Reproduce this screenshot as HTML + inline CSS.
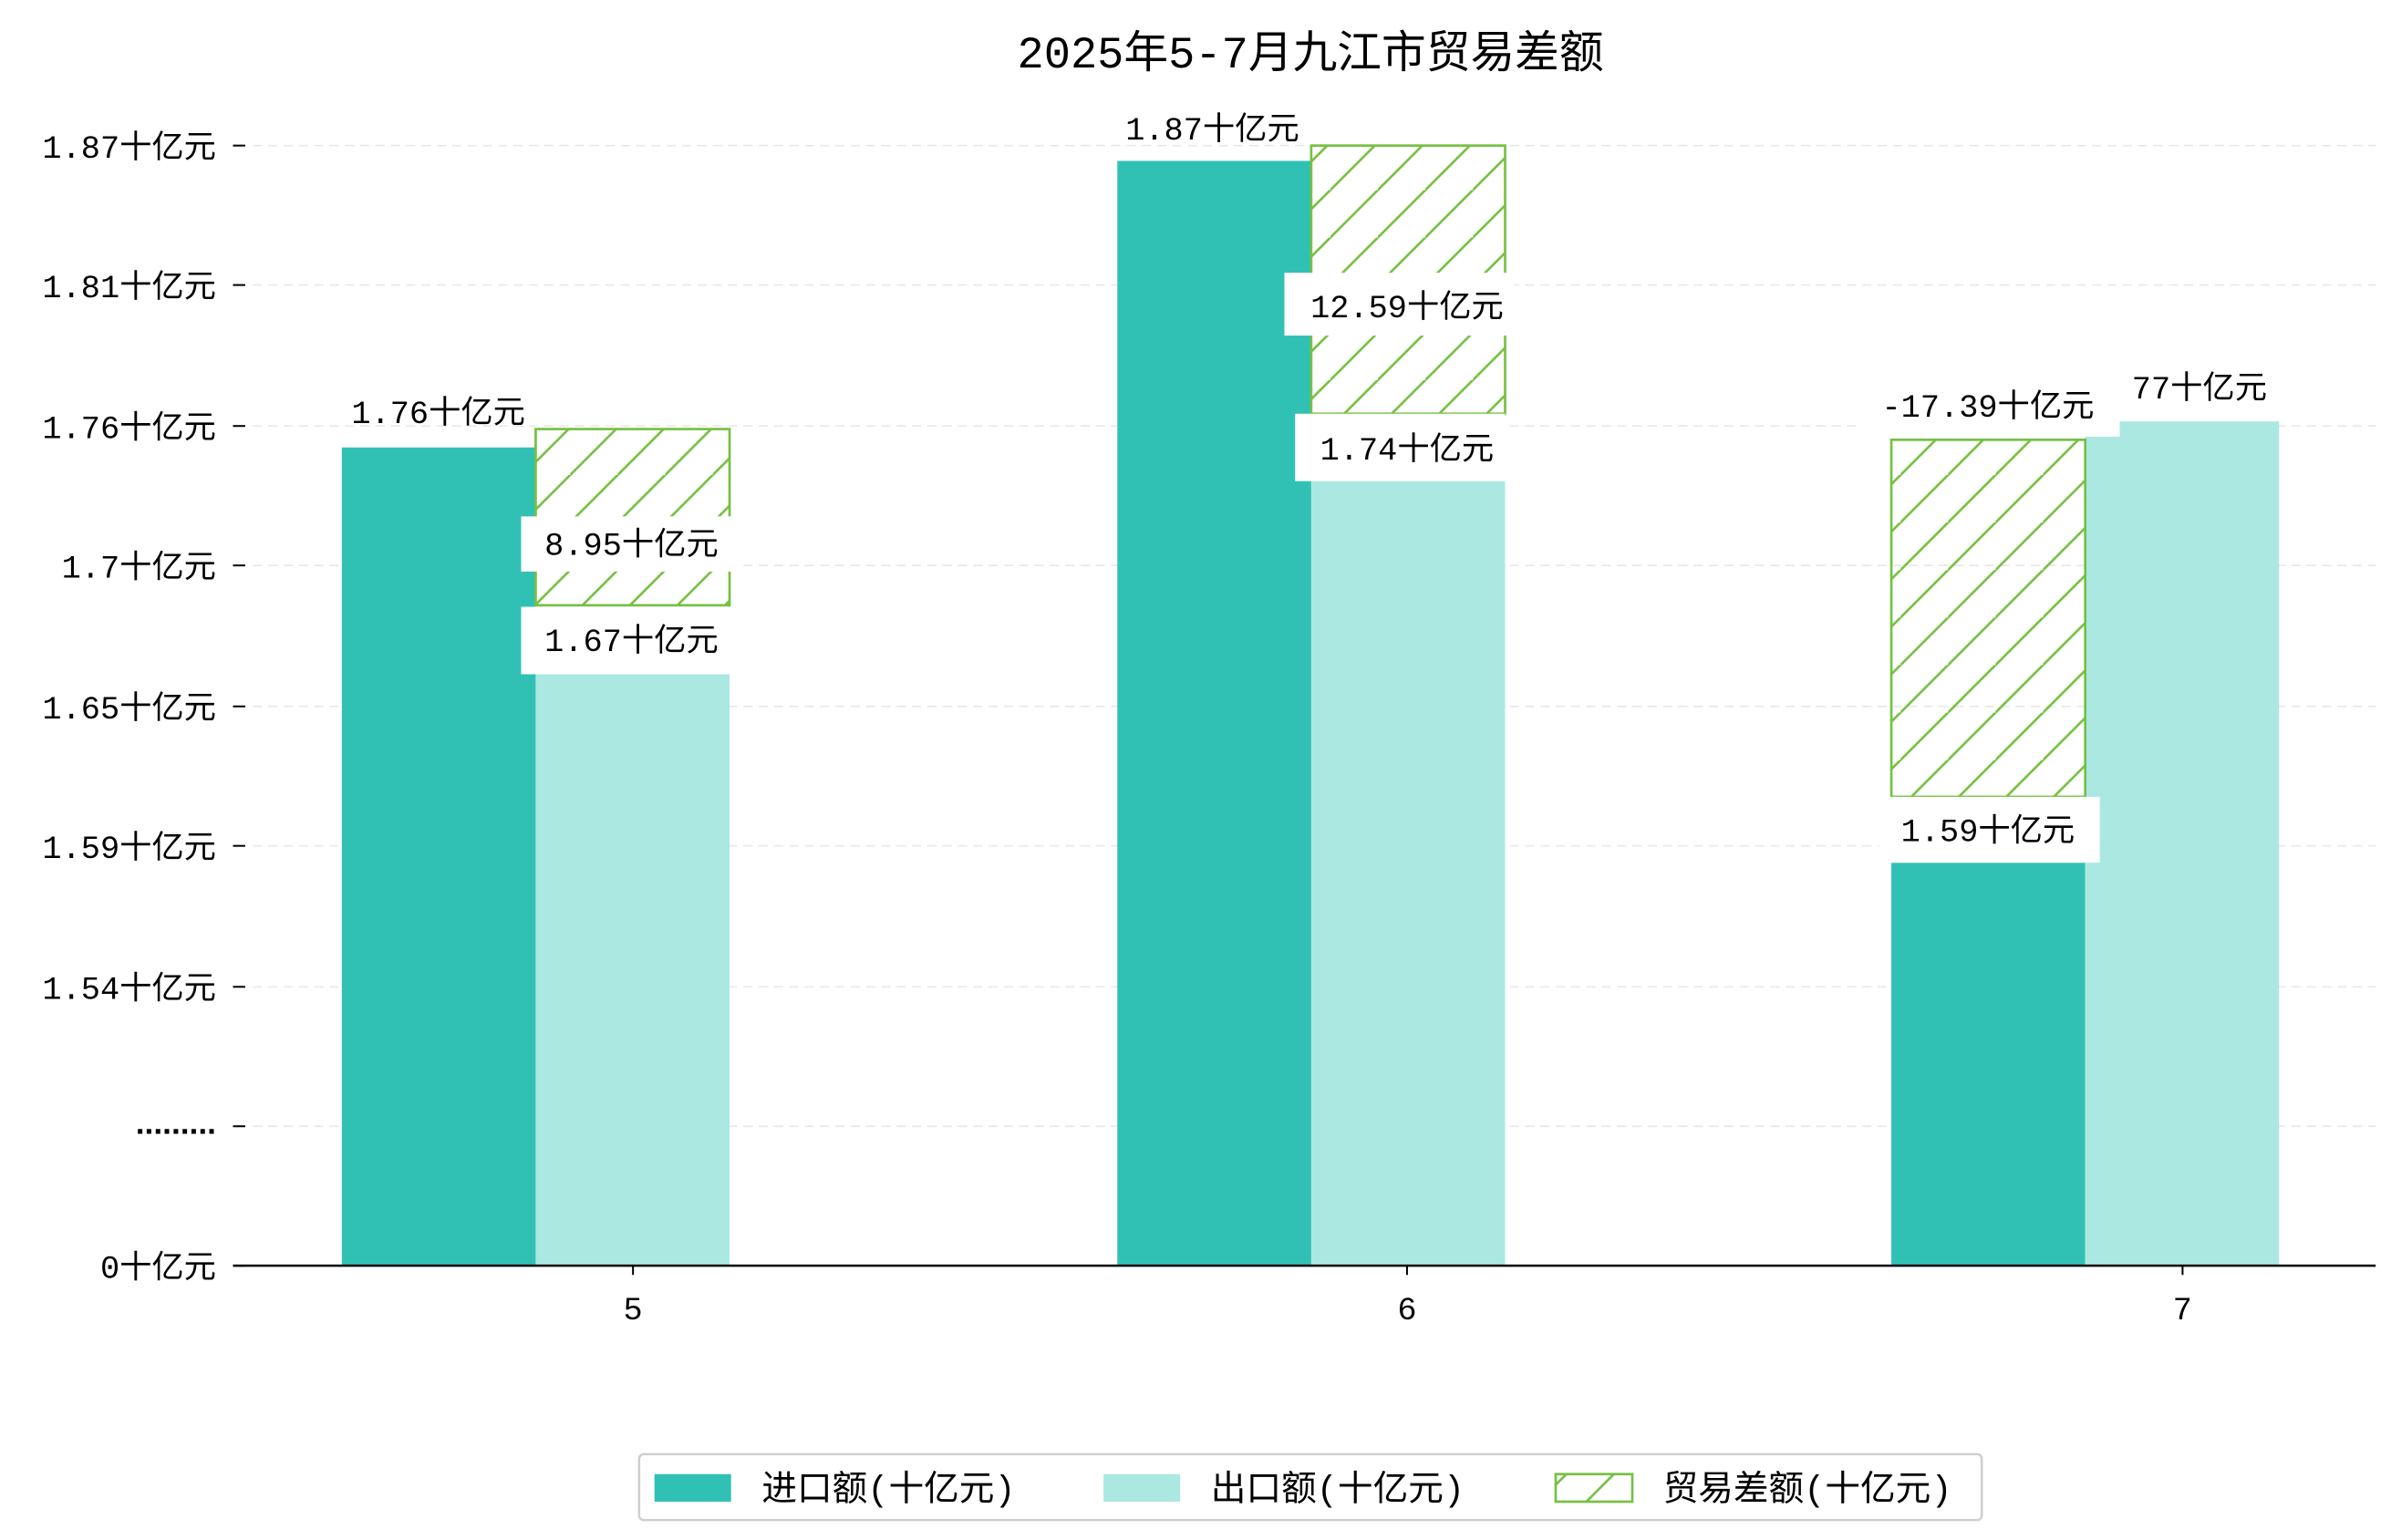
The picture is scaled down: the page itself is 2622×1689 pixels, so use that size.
<!DOCTYPE html>
<html><head><meta charset="utf-8"><style>
html,body{margin:0;padding:0;background:#fff;}
svg{display:block;}
text{font-family:"Liberation Mono","Noto Sans CJK SC",monospace;fill:#000;}
</style></head><body>
<svg width="2622" height="1689" viewBox="0 0 1560 1005" preserveAspectRatio="none" xmlns="http://www.w3.org/2000/svg">
<defs>
<pattern id="h" patternUnits="userSpaceOnUse" width="31" height="31">
<path d="M-2,33 L33,-2 M-33,33 L2,-2 M29,62 L62,29" stroke="#76c043" stroke-width="1.6"/>
</pattern>
</defs>
<rect width="1560" height="1005" fill="#fff"/>
<text x="855" y="44" font-size="29" text-anchor="middle">2025年5-7月九江市贸易差额</text>
<g stroke="#e8e8e8" stroke-width="1" stroke-dasharray="6,4">
<line x1="165" x2="1550" y1="95" y2="95"/><line x1="165" x2="1550" y1="186" y2="186"/>
<line x1="165" x2="1550" y1="278" y2="278"/><line x1="165" x2="1550" y1="369" y2="369"/>
<line x1="165" x2="1550" y1="461" y2="461"/><line x1="165" x2="1550" y1="552" y2="552"/>
<line x1="165" x2="1550" y1="644" y2="644"/><line x1="165" x2="1550" y1="735" y2="735"/>
</g>
<g stroke="#000" stroke-width="1.2">
<line x1="152" x2="160" y1="95" y2="95"/><line x1="152" x2="160" y1="186" y2="186"/>
<line x1="152" x2="160" y1="278" y2="278"/><line x1="152" x2="160" y1="369" y2="369"/>
<line x1="152" x2="160" y1="461" y2="461"/><line x1="152" x2="160" y1="552" y2="552"/>
<line x1="152" x2="160" y1="644" y2="644"/><line x1="152" x2="160" y1="735" y2="735"/>
<line x1="152" x2="160" y1="826" y2="826"/>
</g>
<g font-size="21" text-anchor="end">
<text x="141" y="103">1.87十亿元</text><text x="141" y="194">1.81十亿元</text>
<text x="141" y="286">1.76十亿元</text><text x="141" y="377">1.7十亿元</text>
<text x="141" y="469">1.65十亿元</text><text x="141" y="560">1.59十亿元</text>
<text x="141" y="652">1.54十亿元</text>
<text x="141" y="834">0十亿元</text>
</g>
<text x="141" y="740" font-size="21" text-anchor="end" style="font-family:'Liberation Sans',sans-serif;font-weight:bold">.........</text>
<rect x="223" y="292" width="126.5" height="534" fill="#31c1b4"/>
<rect x="349.5" y="440" width="126.5" height="386" fill="#abe8e2"/>
<rect x="349.5" y="280" width="126.5" height="115" fill="url(#h)" stroke="#76c043" stroke-width="1.6"/>
<rect x="729" y="105" width="126.5" height="721" fill="#31c1b4"/>
<rect x="855.5" y="314" width="126.5" height="512" fill="#abe8e2"/>
<rect x="855.5" y="95" width="126.5" height="175" fill="url(#h)" stroke="#76c043" stroke-width="1.6"/>
<rect x="1234" y="563" width="126.5" height="263" fill="#31c1b4"/>
<rect x="1360.5" y="275" width="126.5" height="551" fill="#abe8e2"/>
<rect x="1234" y="287" width="126.5" height="233" fill="url(#h)" stroke="#76c043" stroke-width="1.6"/>
<g fill="#fff">
<rect x="340" y="337" width="144" height="36"/><rect x="340" y="396" width="136" height="44"/>
<rect x="838" y="178" width="150" height="41"/><rect x="845" y="270" width="137" height="44"/>
<rect x="1226" y="520" width="144" height="43"/><rect x="1215" y="248" width="168" height="37"/>
</g>
<g font-size="21" text-anchor="middle">
<text x="286" y="276">1.76十亿元</text>
<text x="412" y="362">8.95十亿元</text>
<text x="412" y="425">1.67十亿元</text>
<text x="791" y="91">1.87十亿元</text>
<text x="918" y="207">12.59十亿元</text>
<text x="918" y="300">1.74十亿元</text>
<text x="1297" y="272">-17.39十亿元</text>
<text x="1297" y="549">1.59十亿元</text>
<text x="1435" y="260">77十亿元</text>
</g>
<line x1="152" x2="1550" y1="826" y2="826" stroke="#000" stroke-width="1.5"/>
<g stroke="#000" stroke-width="1.2">
<line x1="413" x2="413" y1="826" y2="832"/><line x1="918" x2="918" y1="826" y2="832"/><line x1="1424" x2="1424" y1="826" y2="832"/>
</g>
<g font-size="21" text-anchor="middle">
<text x="413" y="861">5</text><text x="918" y="861">6</text><text x="1424" y="861">7</text>
</g>
<rect x="417" y="949" width="876" height="43" rx="3" fill="#fff" stroke="#cfcfcf" stroke-width="1.5"/>
<rect x="427" y="962" width="50" height="18" fill="#31c1b4"/>
<rect x="720" y="962" width="50" height="18" fill="#abe8e2"/>
<rect x="1015" y="962" width="50" height="18" fill="url(#h)" stroke="#76c043" stroke-width="1.6"/>
<g font-size="23">
<text x="497" y="979">进口额(十亿元)</text>
<text x="790" y="979">出口额(十亿元)</text>
<text x="1085" y="979">贸易差额(十亿元)</text>
</g>
</svg>
</body></html>
